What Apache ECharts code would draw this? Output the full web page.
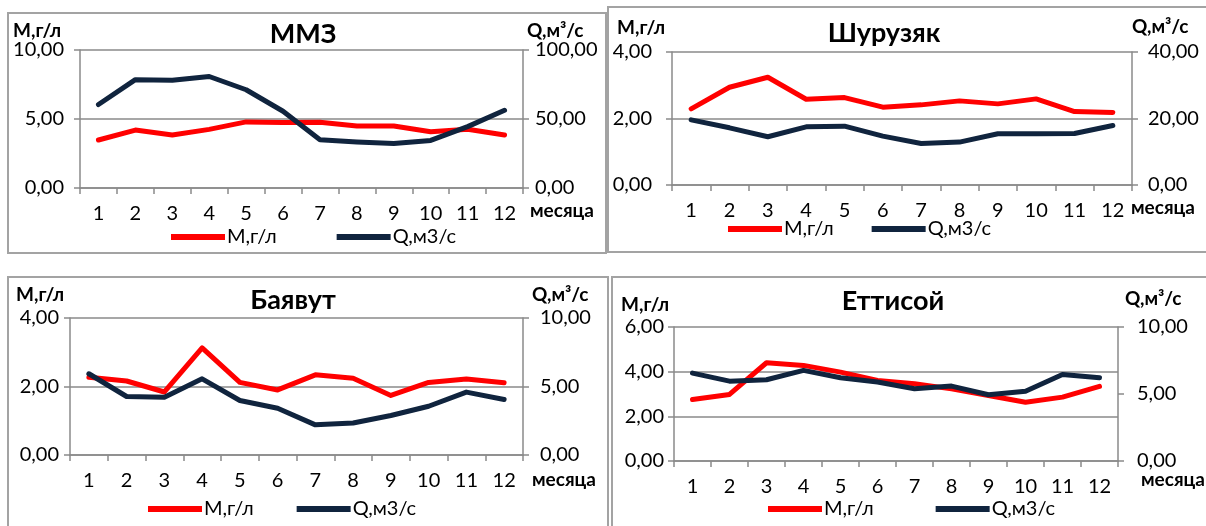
<!DOCTYPE html>
<html>
<head>
<meta charset="utf-8">
<script src="https://cdn.jsdelivr.net/npm/echarts@6/dist/echarts.min.js"></script>
<style>
  html, body { margin: 0; padding: 0; background: #fff; }
  #chart { width: 1206px; height: 526px; }
</style>
</head>
<body>
<div id="chart"></div>
<script>
  // месяцы
  var months = ['1', '2', '3', '4', '5', '6', '7', '8', '9', '10', '11', '12']

  // минерализация М, г/л
  var mmzM = [3.48, 4.2, 3.84, 4.25, 4.79, 4.75, 4.77, 4.49, 4.49, 4.07, 4.26, 3.84]
  var shurM = [2.29, 2.94, 3.24, 2.58, 2.63, 2.34, 2.41, 2.53, 2.44, 2.59, 2.21, 2.18]
  var bayM = [2.27, 2.16, 1.84, 3.13, 2.12, 1.9, 2.34, 2.24, 1.74, 2.12, 2.22, 2.11]
  var ettM = [2.75, 2.98, 4.4, 4.28, 3.98, 3.61, 3.46, 3.23, 2.93, 2.63, 2.86, 3.34]

  // расход Q, м3/с
  var mmzQ = [60.5, 78.5, 78, 80.8, 71.2, 55.6, 35, 33.4, 32.2, 34.5, 44.5, 56.3]
  var shurQ = [19.6, 17.2, 14.5, 17.5, 17.7, 14.7, 12.5, 12.9, 15.4, 15.4, 15.5, 17.9]
  var bayQ = [5.93, 4.27, 4.22, 5.56, 3.98, 3.41, 2.2, 2.34, 2.88, 3.56, 4.59, 4.05]
  var ettQ = [6.56, 5.96, 6.06, 6.76, 6.21, 5.89, 5.39, 5.59, 4.94, 5.21, 6.46, 6.21]

  var leftMax = [10, 4, 4, 6]
  var leftStep = [5, 2, 2, 2]
  var rightMax = [100, 40, 10, 10]
  var rightStep = [50, 20, 5, 5]
  var titles = ['ММЗ', 'Шурузяк', 'Баявут', 'Еттисой']

  var nameM = 'М,г/л'
  var nameQ = 'Q,м3/с'
  var FONT = 'Lato'
  var RED = '#ff0000'
  var NAVY = '#10243e'
  var GREY = '#8a8a8a'

  // раскладка панелей (пиксели)
  var panels = [
    { m: mmzM, q: mmzQ, left: 80, right: 523, top: 50, bottom: 188, lm: 16, rm: 12,
      box: [8, 13, 598, 240], tx: 303, ty: 34, mx: 13, my: 31, qx: 527, qy: 31, ex: 530, ey: 211,
      lgx: 171, lgy: 238, gap: 60 },
    { m: shurM, q: shurQ, left: 672, right: 1132, top: 52, bottom: 185, lm: 20, rm: 16,
      box: [608, 7, 620, 245], tx: 884, ty: 33, mx: 617, my: 28, qx: 1132, qy: 27, ex: 1131, ey: 208,
      lgx: 728, lgy: 230, gap: 38 },
    { m: bayM, q: bayQ, left: 70, right: 523, top: 318, bottom: 455, lm: 11, rm: 17,
      box: [8, 277, 600, 270], tx: 293, ty: 300, mx: 16, my: 295, qx: 532, qy: 295, ex: 532, ey: 480,
      lgx: 148, lgy: 510, gap: 43 },
    { m: ettM, q: ettQ, left: 674, right: 1118, top: 327, bottom: 461, lm: 10, rm: 19,
      box: [612, 277, 620, 270], tx: 893, ty: 301, mx: 621, my: 305, qx: 1125, qy: 299, ex: 1141, ey: 480,
      lgx: 768, lgy: 510, gap: 62 }
  ]

  function fmt(v) {
    return v.toFixed(2).replace('.', ',')
  }

  var grid = [], xAxis = [], yAxis = [], series = [], legend = [], graphic = []

  panels.forEach(function (p, i) {
    grid.push({ left: p.left, top: p.top, width: p.right - p.left, height: p.bottom - p.top })
    xAxis.push({
      type: 'category', gridIndex: i, data: months, boundaryGap: true,
      axisLine: { lineStyle: { color: GREY, width: 1.5 } },
      axisTick: { show: true, length: 6, lineStyle: { color: GREY, width: 1.5 } },
      axisLabel: { color: '#000', fontFamily: FONT, fontSize: 20, margin: 16 }
    })
    yAxis.push({
      type: 'value', gridIndex: i, min: 0, max: leftMax[i], interval: leftStep[i], position: 'left',
      axisLine: { show: true, lineStyle: { color: GREY, width: 1.5 } },
      axisTick: { show: true, length: 6, lineStyle: { color: GREY, width: 1.5 } },
      splitLine: { show: true, lineStyle: { color: GREY, width: 1.5 } },
      axisLabel: { color: '#000', fontFamily: FONT, fontSize: 20, margin: p.lm, formatter: fmt }
    })
    yAxis.push({
      type: 'value', gridIndex: i, min: 0, max: rightMax[i], interval: rightStep[i], position: 'right',
      axisLine: { show: true, lineStyle: { color: GREY, width: 1.5 } },
      axisTick: { show: true, length: 6, lineStyle: { color: GREY, width: 1.5 } },
      splitLine: { show: false },
      axisLabel: { color: '#000', fontFamily: FONT, fontSize: 20, margin: p.rm, formatter: fmt }
    })
    series.push({
      name: nameM, type: 'line', xAxisIndex: i, yAxisIndex: i * 2, data: p.m,
      showSymbol: false, symbol: 'none', color: RED,
      lineStyle: { color: RED, width: 5, cap: 'round', join: 'round' }
    })
    series.push({
      name: nameQ, type: 'line', xAxisIndex: i, yAxisIndex: i * 2 + 1, data: p.q,
      showSymbol: false, symbol: 'none', color: NAVY,
      lineStyle: { color: NAVY, width: 5, cap: 'round', join: 'round' }
    })
    legend.push({
      data: [nameM, nameQ], left: p.lgx, top: p.lgy - 11, padding: 0,
      icon: 'rect', itemWidth: 54, itemHeight: 6, itemGap: p.gap, selectedMode: false,
      textStyle: { color: '#000', fontFamily: FONT, fontSize: 20, padding: [0, 0, 0, -3] }
    })

    graphic.push({
      type: 'rect', shape: { x: p.box[0], y: p.box[1], width: p.box[2], height: p.box[3] },
      style: { fill: 'none', stroke: '#a3a3a3', lineWidth: 2 }, z: -1
    })
    graphic.push({
      type: 'text', x: p.tx, y: p.ty,
      style: { text: titles[i], font: 'bold 27px ' + FONT, fill: '#000', textAlign: 'center', textVerticalAlign: 'middle' }
    })
    graphic.push({
      type: 'text', x: p.mx, y: p.my,
      style: { text: 'М,г/л', font: 'bold 19px ' + FONT, fill: '#000', textAlign: 'left', textVerticalAlign: 'middle' }
    })
    graphic.push({
      type: 'text', x: p.qx, y: p.qy,
      style: { text: 'Q,м³/с', font: 'bold 19px ' + FONT, fill: '#000', textAlign: 'left', textVerticalAlign: 'middle' }
    })
    graphic.push({
      type: 'text', x: p.ex, y: p.ey,
      style: { text: 'месяца', font: 'bold 19px ' + FONT, fill: '#000', textAlign: 'left', textVerticalAlign: 'middle' }
    })
  })

  var chart = echarts.init(document.getElementById('chart'))
  chart.setOption({
    animation: false,
    grid: grid,
    xAxis: xAxis,
    yAxis: yAxis,
    legend: legend,
    graphic: graphic,
    series: series
  })
</script>
</body>
</html>
